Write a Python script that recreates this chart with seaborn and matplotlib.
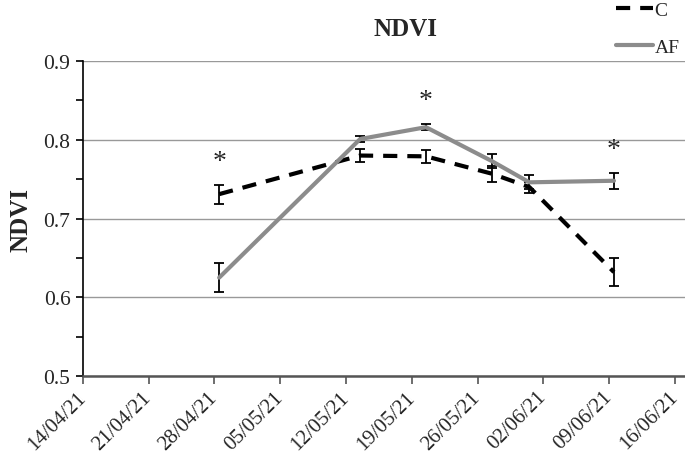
import matplotlib
matplotlib.use("Agg")
from matplotlib import pyplot as plt
import matplotlib.dates as mdates
from matplotlib.ticker import MultipleLocator
import seaborn as sns
import pandas as pd
import numpy as np

# sampling dates
dates = ["28/04/21", "13/05/21", "20/05/21", "27/05/21", "31/05/21", "09/06/21"]
# NDVI means and standard errors
ndvi_c = [0.731, 0.780, 0.779, 0.757, 0.740, 0.632]
err_c = [0.012, 0.008, 0.008, 0.010, 0.007, 0.018]
ndvi_af = [0.625, 0.801, 0.816, 0.773, 0.746, 0.748]
err_af = [0.018, 0.004, 0.004, 0.009, 0.009, 0.010]
# significant difference between treatments
signif = [True, False, True, False, False, True]

tick_dates = ["14/04/21", "21/04/21", "28/04/21", "05/05/21", "12/05/21",
              "19/05/21", "26/05/21", "02/06/21", "09/06/21", "16/06/21"]


def main():
    sns.set_style("white")
    plt.rcParams["font.family"] = ["Liberation Serif", "DejaVu Serif"]

    # points sit in the middle of the day (date axis, between tick marks)
    x = pd.to_datetime(dates, format="%d/%m/%y") + pd.Timedelta(hours=12)
    ticks = pd.to_datetime(tick_dates, format="%d/%m/%y")

    fig = plt.figure(figsize=(6.85, 4.56), dpi=100)
    ax = fig.add_axes([0.121, 0.173, 0.879, 0.691])

    ax.errorbar(x, ndvi_c, yerr=err_c, fmt="none", ecolor="black",
                elinewidth=1.3, capsize=3.5, capthick=1.3, zorder=2)
    ax.errorbar(x, ndvi_af, yerr=err_af, fmt="none", ecolor="black",
                elinewidth=1.3, capsize=3.5, capthick=1.3, zorder=2)
    sns.lineplot(x=x, y=ndvi_c, ax=ax, color="black", linewidth=3.0,
                 linestyle=(0, (3.4, 2.4)), label="C", zorder=3)
    sns.lineplot(x=x, y=ndvi_af, ax=ax, color="#8c8c8c", linewidth=3.0,
                 label="AF", zorder=3)

    tops = np.maximum(np.array(ndvi_c) + err_c, np.array(ndvi_af) + err_af)
    for xi, top, s in zip(x, tops, signif):
        if s:
            ax.text(xi, top + 0.03, "*", ha="center", va="center", fontsize=20)

    ax.set_ylim(0.5, 0.9)
    ax.set_xlim(ticks[0], ticks[-1] + pd.Timedelta(days=1.06))
    ax.yaxis.set_major_locator(MultipleLocator(0.1))
    ax.yaxis.set_minor_locator(MultipleLocator(0.05))
    ax.set_xticks(ticks)
    ax.xaxis.set_major_formatter(mdates.DateFormatter("%d/%m/%y"))
    ax.yaxis.grid(True, color="#999999", linewidth=1.0)
    ax.xaxis.grid(False)
    ax.set_axisbelow(True)

    for side in ["top", "right"]:
        ax.spines[side].set_visible(False)
    ax.spines["left"].set_color("black")
    ax.spines["left"].set_linewidth(1.2)
    ax.spines["bottom"].set_color("#555555")
    ax.spines["bottom"].set_linewidth(1.8)

    ax.tick_params(axis="y", which="both", direction="out", length=5,
                   width=1.2, color="black", left=True, labelsize=15.5, pad=4)
    ax.tick_params(axis="x", direction="out", length=6, width=1.2,
                   color="#555555", bottom=True, labelsize=15, pad=7)
    for lab in ax.get_xticklabels():
        lab.set_rotation(45)
        lab.set_ha("right")
        lab.set_va("center")
        lab.set_rotation_mode("anchor")

    ax.set_xlabel("")
    ax.set_ylabel("NDVI", fontsize=18, fontweight="bold", labelpad=8)
    fig.text(405 / 685, 1 - 30 / 456, "NDVI", ha="center", va="center",
             fontsize=18, fontweight="bold")

    handles, labels = ax.get_legend_handles_labels()
    ax.get_legend().remove()
    fig.legend(handles, labels, loc="upper right", bbox_to_anchor=(1.012, 1.025),
               frameon=False, fontsize=14, labelspacing=1.0, handlelength=1.9,
               handletextpad=0.1, borderpad=0.2)

    fig.savefig("out.png", dpi=100)


if __name__ == "__main__":
    main()
